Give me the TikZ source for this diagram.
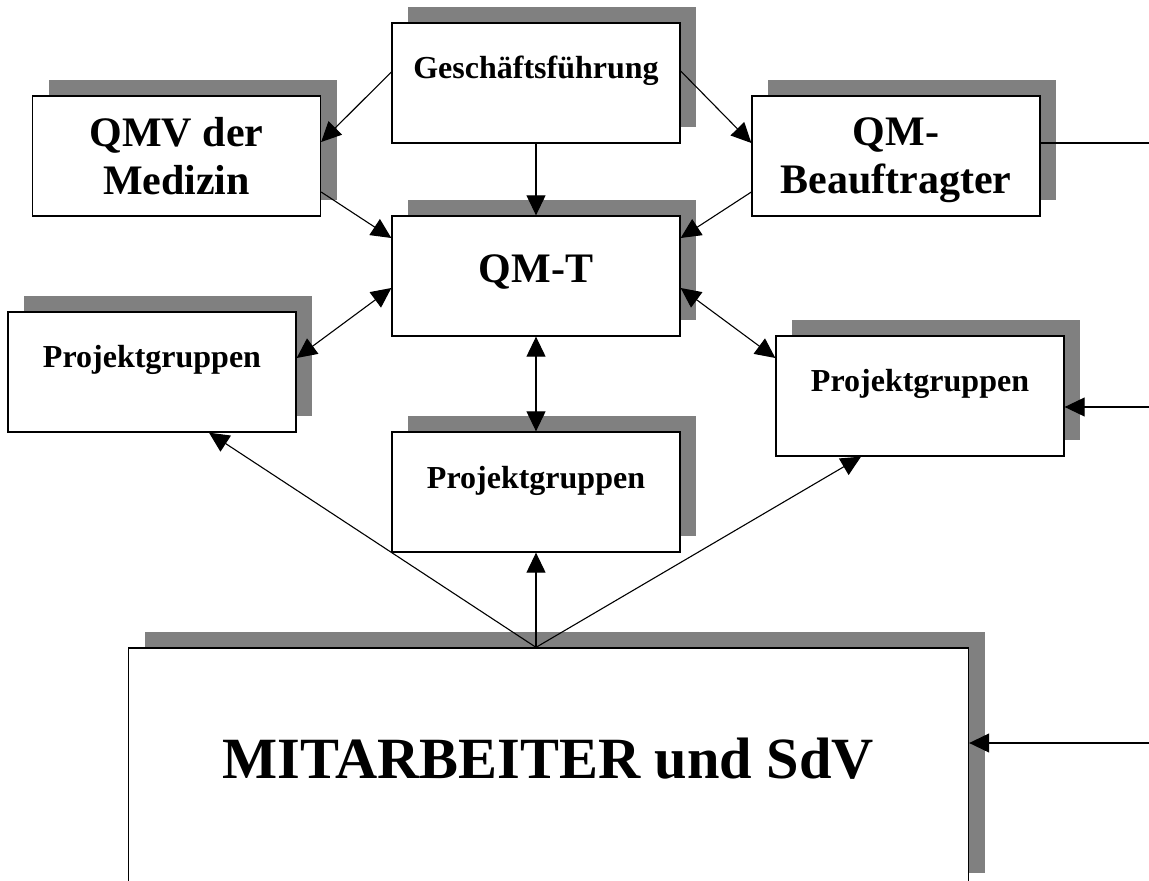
\documentclass[tikz,border=0pt]{standalone}
\usepackage{fontspec}
\setmainfont{Liberation Serif}
\usetikzlibrary{shadows,arrows.meta}

\begin{document}
\begin{tikzpicture}[x=0.5pt,y=-0.5pt,
  cutie/.style={draw,fill=white,line width=0.65pt,minimum width=144pt,minimum height=60pt,inner sep=0pt,
    drop shadow={shadow xshift=8pt,shadow yshift=8pt,opacity=1,fill=gray}},
  sus/.style={text height=28pt,text depth=32pt},
  mic/.style={font=\bfseries\fontsize{16}{19}\selectfont},
  mare/.style={font=\bfseries\fontsize{21}{24}\selectfont,align=center,text depth=0pt},
  linie/.style={line width=0.55pt},
  sageata/.style={line width=0.55pt,-{Triangle[length=10pt,width=9.5pt]}},
  dubla/.style={line width=0.55pt,{Triangle[length=10pt,width=9.5pt]}-{Triangle[length=10pt,width=9.5pt]}}]
  % marginile imaginii
  \useasboundingbox (0,0) rectangle (1149,881);
  \clip (0,0) rectangle (1149,881);

  % cutii cu umbra
  \node[cutie,sus,mic] (gf) at (536,83) {Geschäftsführung};
  \node[cutie,mare] (qmv) at (176.5,156) {QMV der\\Medizin};
  \node[cutie,mare] (qmb) at (896,156) {QM-\\Beauftragter};
  \node[cutie,mare,text height=33.5pt,text depth=26.5pt] (qmt) at (536,276) {QM-T};
  \node[cutie,sus,mic] (pgst) at (152,372) {Projektgruppen};
  \node[cutie,sus,mic] (pgmij) at (536,492) {Projektgruppen};
  \node[cutie,sus,mic] (pgdr) at (920,396) {Projektgruppen};
  \node[cutie,minimum width=420pt,text height=65pt,text depth=55.5pt,
    font=\bfseries\fontsize{29.2}{34}\selectfont] (mit) at (548.5,768.5) {MITARBEITER und SdV};

  % capete libere la marginea din dreapta
  \coordinate (d1) at (1149,143);
  \coordinate (d2) at (1149,407);
  \coordinate (d3) at (1149,743);
  \coordinate (jos) at (mit.north -| pgmij.south);

  % sageti de sus
  \draw[sageata] ([yshift=5.5pt]gf.west) -- ([yshift=7pt]qmv.east);
  \draw[sageata] (gf.south) -- (qmt.north);
  \draw[sageata] ([yshift=6pt]gf.east) -- ([yshift=6.5pt]qmb.west);
  \draw[sageata] ([yshift=-18pt]qmv.east) -- ([yshift=19pt]qmt.west);
  \draw[sageata] ([yshift=-18pt]qmb.west) -- ([yshift=19pt]qmt.east);
  \draw[linie] ([yshift=6.5pt]qmb.east) -- (d1);
  % sageti duble spre proiecte
  \draw[dubla] ([yshift=-6pt]qmt.west) -- ([yshift=7pt]pgst.east);
  \draw[dubla] ([yshift=-6pt]qmt.east) -- ([yshift=19pt]pgdr.west);
  \draw[dubla] (qmt.south) -- (pgmij.north);
  \draw[sageata] (d2) -- ([yshift=-5.5pt]pgdr.east);
  % sageti de la mitarbeiter
  \draw[sageata] (jos) -- ([xshift=28.5pt]pgst.south);
  \draw[sageata] (jos) -- (pgmij.south);
  \draw[sageata] (jos) -- ([xshift=-29.5pt]pgdr.south);
  \draw[sageata] (d3) -- ([yshift=12.75pt]mit.east);
\end{tikzpicture}
\end{document}
